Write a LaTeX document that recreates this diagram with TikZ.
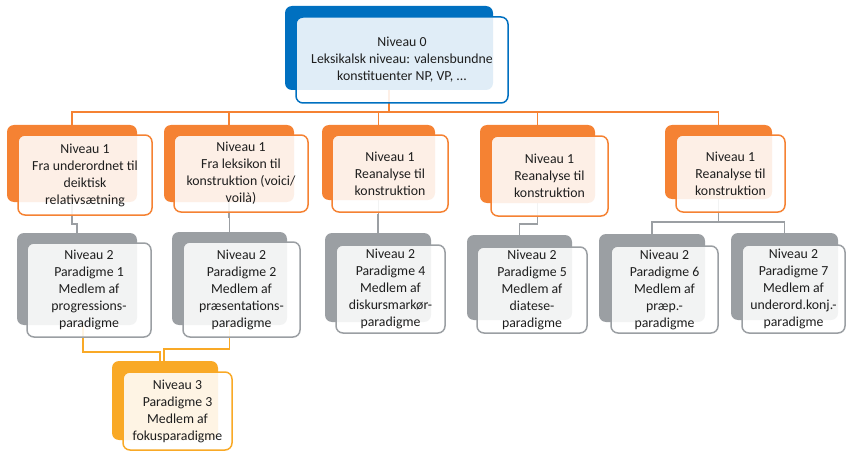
\documentclass[tikz,border=0pt]{standalone}
\usepackage{fontspec}
\setmainfont{Carlito}
\usepackage{tikz}
\usetikzlibrary{calc}
\pgfdeclarelayer{background}
\pgfsetlayers{background,main}
\definecolor{nivblue}{HTML}{0070C0}
\definecolor{nivorange}{HTML}{F58233}
\definecolor{nivgray}{HTML}{9B9FA3}
\definecolor{nivgold}{HTML}{F9A926}
\definecolor{nivtext}{HTML}{1E1E1E}

\begin{document}
\begin{tikzpicture}[x=1pt,y=-1pt,
  shadow/.style={rectangle,rounded corners=7pt,inner sep=0pt},
  card/.style={rectangle,draw,rounded corners=7pt,inner sep=0pt,line width=1.5pt,
    fill=white,fill opacity=0.88,text opacity=1,text=nivtext,align=center,
    font=\fontsize{13.8}{17}\selectfont},
  blueback/.style={shadow,fill=nivblue},
  bluecard/.style={card,draw=nivblue},
  orangeback/.style={shadow,fill=nivorange},
  orangecard/.style={card,draw=nivorange},
  grayback/.style={shadow,fill=nivgray},
  graycard/.style={card,draw=nivgray},
  goldback/.style={shadow,fill=nivgold},
  goldcard/.style={card,draw=nivgold},
  orangelink/.style={draw=nivorange,line width=1.5pt},
  graylink/.style={draw=nivgray,line width=1.5pt},
  goldlink/.style={draw=nivgold,line width=1.5pt}]
    \useasboundingbox (0,0) rectangle (847,452);
    % Niveau 0
    \node[blueback,minimum width=208pt,minimum height=84pt] (n0b) at (389,48) {};
    \node[bluecard,minimum width=212pt,minimum height=86pt] (n0) at (402,60)
      {Niveau 0\\Leksikalsk niveau: valensbundne\\konstituenter NP, VP, ...};
    % Niveau 1
    \node[orangeback,minimum width=130pt,minimum height=77pt] (n1ab) at (72,163.5) {};
    \node[orangecard,minimum width=134pt,minimum height=80pt] (n1a) at (85,175)
      {Niveau 1\\Fra underordnet til\\deiktisk\\relativsætning};
    \node[orangeback,minimum width=130pt,minimum height=77pt] (n1bb) at (229,163.5) {};
    \node[orangecard,minimum width=134pt,minimum height=77pt] (n1b) at (241,173.5)
      {Niveau 1\\Fra leksikon til\\konstruktion (voici/\\voilà)};
    \node[orangeback,minimum width=113pt,minimum height=75pt] (n1cb) at (378.5,162.5) {};
    \node[orangecard,minimum width=116pt,minimum height=77pt] (n1c) at (390,173.5)
      {Niveau 1\\Reanalyse til\\konstruktion};
    \node[orangeback,minimum width=115pt,minimum height=78pt] (n1db) at (537.5,164) {};
    \node[orangecard,minimum width=117pt,minimum height=80pt] (n1d) at (549.5,176)
      {Niveau 1\\Reanalyse til\\konstruktion};
    \node[orangeback,minimum width=107pt,minimum height=74pt] (n1eb) at (718.5,162) {};
    \node[orangecard,minimum width=109pt,minimum height=77pt] (n1e) at (730.5,173.5)
      {Niveau 1\\Reanalyse til\\konstruktion};
    % Niveau 2
    \node[grayback,minimum width=120pt,minimum height=92pt] (n2ab) at (77,279) {};
    \node[graycard,minimum width=124pt,minimum height=94pt] (n2a) at (89,290)
      {Niveau 2\\Paradigme 1\\Medlem af\\progressions-\\paradigme};
    \node[grayback,minimum width=115pt,minimum height=93pt] (n2bb) at (229.5,278.5) {};
    \node[graycard,minimum width=117pt,minimum height=95pt] (n2b) at (241.5,289.5)
      {Niveau 2\\Paradigme 2\\Medlem af\\præsentations-\\paradigme};
    \node[grayback,minimum width=106pt,minimum height=89pt] (n2cb) at (378,277.5) {};
    \node[graycard,minimum width=109pt,minimum height=88pt] (n2c) at (390.5,289)
      {Niveau 2\\Paradigme 4\\Medlem af\\diskursmarkør-\\paradigme};
    \node[grayback,minimum width=105pt,minimum height=85pt] (n2db) at (519.5,277.5) {};
    \node[graycard,minimum width=110pt,minimum height=86pt] (n2d) at (532,290)
      {Niveau 2\\Paradigme 5\\Medlem af\\diatese-\\paradigme};
    \node[grayback,minimum width=106pt,minimum height=88pt] (n2eb) at (652,278) {};
    \node[graycard,minimum width=107pt,minimum height=87pt] (n2e) at (664.5,289.5)
      {Niveau 2\\Paradigme 6\\Medlem af\\præp.-\\paradigme};
    \node[grayback,minimum width=107pt,minimum height=87pt] (n2fb) at (784.5,276.5) {};
    \node[graycard,minimum width=103pt,minimum height=88pt] (n2f) at (793.5,289)
      {Niveau 2\\Paradigme 7\\Medlem af\\underord.konj.-\\paradigme};
    % Niveau 3
    \node[goldback,minimum width=106pt,minimum height=79pt] (n3b) at (165,400.5) {};
    \node[goldcard,minimum width=109pt,minimum height=78pt] (n3) at (177.5,411)
      {Niveau 3\\Paradigme 3\\Medlem af\\fokusparadigme};
    % Connectors
    \begin{pgfonlayer}{background}
      \foreach \b in {n1ab,n1bb,n1cb,n1db,n1eb}
        \draw[orangelink] (n0b.south) -- ++(0,22) -| (\b.north);
      \draw[graylink] (n1ab.south) -- ++(0,22) -| (n2ab.north);
      \draw[graylink] (n1bb.south) -- ++(0,15) -| (n2bb.north);
      \draw[graylink] (n1cb.south) -- ++(0,15) -| (n2cb.north);
      \draw[graylink] (n1db.south) -- ++(0,21) -| (n2db.north);
      \foreach \b in {n2eb,n2fb}
        \draw[graylink] (n1eb.south) -- ++(0,23) -| (\b.north);
      \draw[goldlink] ([xshift=6pt]n2ab.south) -- ++(0,27) -| ([xshift=-5pt]n3b.north);
      \draw[goldlink] (n2bb.south) -- ++(0,24) -| ([xshift=-1pt]n3b.north);
    \end{pgfonlayer}
\end{tikzpicture}
\end{document}
